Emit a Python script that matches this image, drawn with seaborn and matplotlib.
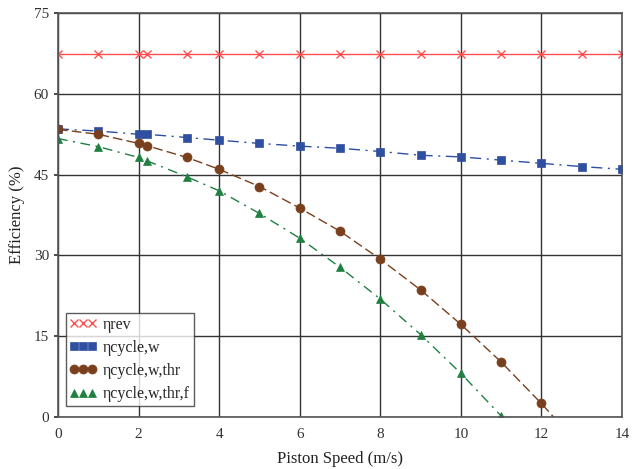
import matplotlib
matplotlib.use("Agg")
import matplotlib.pyplot as plt
import seaborn as sns
import pandas as pd

speed = [0, 1, 2, 2.2, 3.2, 4, 5, 6, 7, 8, 9, 10, 11, 12, 13, 14]
eta_rev = [67.5] * 16
eta_cycle_w = [53.5, 53.1, 52.5, 52.5, 51.9, 51.4, 50.8, 50.3, 49.9, 49.3, 48.6, 48.3, 47.7, 47.1, 46.5, 46.0]
speed_thr = [0, 1, 2, 2.2, 3.2, 4, 5, 6, 7, 8, 9, 10, 11, 12, 12.3]
eta_cycle_w_thr = [53.4, 52.5, 50.8, 50.4, 48.2, 46.0, 42.8, 38.8, 34.5, 29.3, 23.6, 17.2, 10.2, 2.5, 0.0]
speed_thr_f = [0, 1, 2, 2.2, 3.2, 4, 5, 6, 7, 8, 9, 10, 11]
eta_cycle_w_thr_f = [51.7, 50.2, 48.2, 47.6, 44.6, 42.0, 37.8, 33.2, 27.8, 21.9, 15.3, 8.1, 0.2]
labels = ["ηrev", "ηcycle,w", "ηcycle,w,thr", "ηcycle,w,thr,f"]
x_ticks = [0, 2, 4, 6, 8, 10, 12, 14]
y_ticks = [0, 15, 30, 45, 60, 75]

sns.set_theme(style="white")
plt.rcParams['font.family'] = ['Liberation Serif', 'DejaVu Serif']

fig = plt.figure(figsize=(6.33, 4.69), dpi=100)
ax = fig.add_axes([0.0916, 0.111, 0.891, 0.861])

series = [
    (speed, eta_rev, labels[0], "#ff5050", "x", "-", 5.5, None),
    (speed, eta_cycle_w, labels[1], "#2f4fa0", "s", (0, (8, 4, 1.5, 4)), 6, None),
    (speed_thr, eta_cycle_w_thr, labels[2], "#7a3f1c", "o", (0, (7, 3)), 6.5,
     list(range(len(speed_thr) - 1))),
    (speed_thr_f, eta_cycle_w_thr_f, labels[3], "#1f8040", "^", (0, (7, 4, 1.5, 4)), 6, None),
]

for xs, ys, lab, col, mk, ls, ms, me in series:
    df = pd.DataFrame({"x": xs, "y": ys})
    sns.lineplot(data=df, x="x", y="y", ax=ax, color=col, marker=mk, markersize=ms,
                 linestyle=ls, linewidth=1.0, label=lab, estimator=None, sort=False,
                 markeredgecolor=col, markeredgewidth=1.0 if mk == "x" else 0.5,
                 markevery=me)

ax.set_xlim(0, 14)
ax.set_ylim(0, 75)
ax.set_xticks(x_ticks)
ax.set_yticks(y_ticks)
ax.grid(True, color="#333333", linewidth=1.0)
ax.set_axisbelow(True)
for s in ax.spines.values():
    s.set_color("#555555")
    s.set_linewidth(1.2)
ax.tick_params(axis="both", labelsize=11, colors="#333333", length=3, direction="out", left=True, bottom=False)
ax.tick_params(axis="x", pad=5)
ax.set_xlabel("Piston Speed (m/s)", fontsize=12, color="#222222", labelpad=7)
ax.set_ylabel("Efficiency (%)", fontsize=12, color="#222222", labelpad=6)

leg = ax.legend(loc="lower left", bbox_to_anchor=(0.005, 0.015), numpoints=3, handlelength=1.7,
                frameon=True, fancybox=False, edgecolor="#333333", fontsize=11.5,
                borderpad=0.25, labelspacing=0.45, handletextpad=0.4, borderaxespad=0.3)
leg.get_frame().set_linewidth(1.0)
for h in leg.get_lines():
    h.set_linestyle("none")
    h.set_markevery(None)

fig.savefig("out.png", dpi=100)
